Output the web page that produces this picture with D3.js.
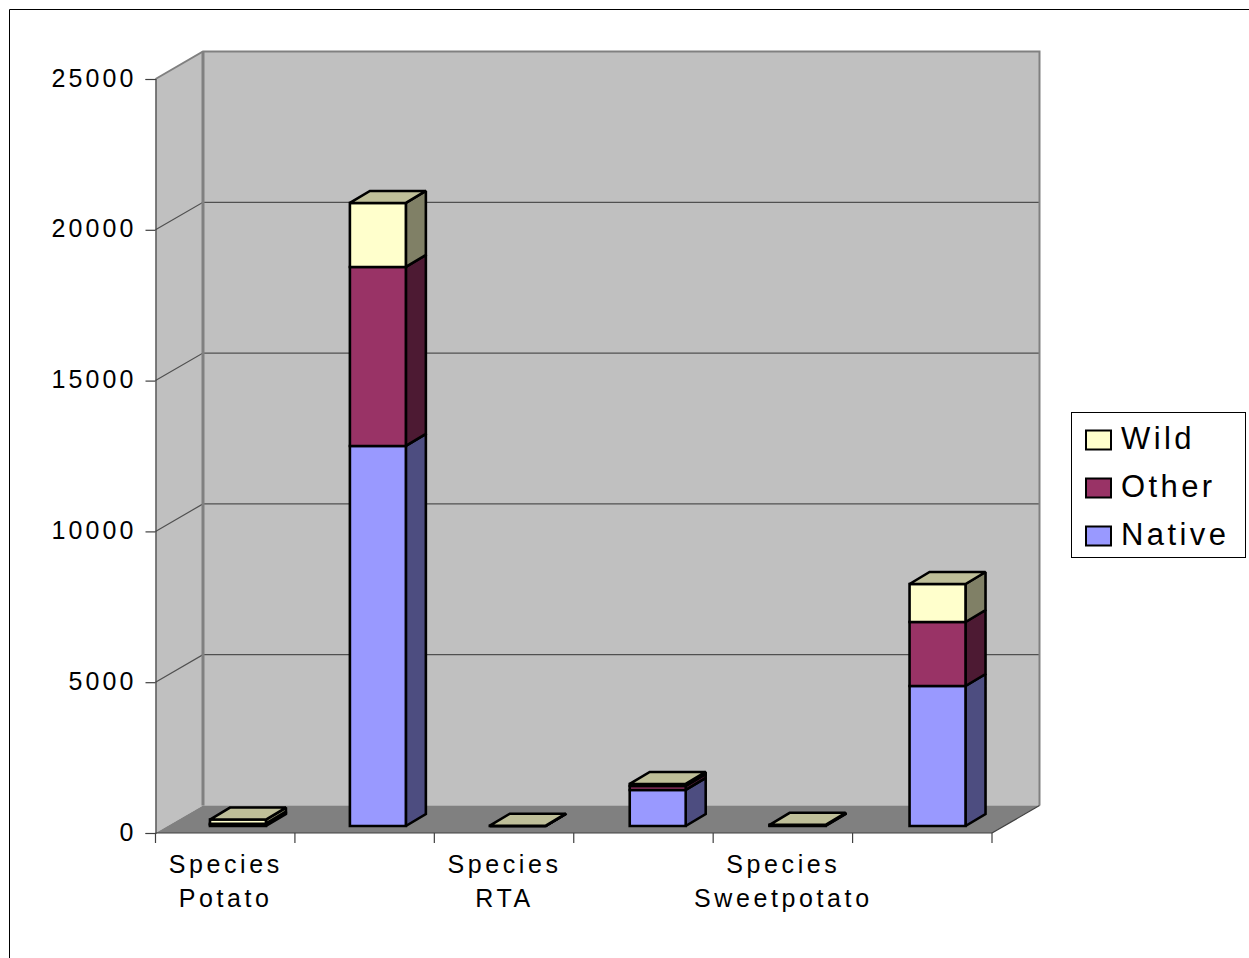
<!DOCTYPE html>
<html>
<head>
<meta charset="utf-8">
<script src="https://cdn.jsdelivr.net/npm/d3@7/dist/d3.min.js"></script>
<style>
html,body{margin:0;padding:0;background:#fff;overflow:hidden}
svg{display:block}
text{font-family:"Liberation Sans",Arial,sans-serif;fill:#000}
</style>
</head>
<body>
<svg id="chart" width="1249" height="958"></svg>
<script>
// Crop groups along the horizontal axis
const categories = ["Species Potato A", "Species Potato B", "Species RTA A", "Species RTA B", "Species Sweetpotato A", "Species Sweetpotato B"];
const axisLabels = [["Species", "Potato"], ["Species", "RTA"], ["Species", "Sweetpotato"]];
const seriesNames = ["Native", "Other", "Wild"];
const native = [40, 12600, 0, 1194, 10, 4642];
const other = [35, 5935, 0, 133, 20, 2122];
const wild = [140, 2122, 10, 66, 10, 1260];
const yTicks = [0, 5000, 10000, 15000, 20000, 25000];
const palette = ["#9999ff", "#993366", "#ffffcc"];

const rows = categories.map((c, i) => ({ category: c, Native: native[i], Other: other[i], Wild: wild[i] }));
const stacked = d3.stack().keys(seriesNames)(rows);

const svg = d3.select("#chart");

// Front plane of the 3D box
const y = d3.scaleLinear().domain([0, 25000]).range([833, 79]);
const xAxisScale = d3.scaleBand().domain(categories).range([155.5, 992]);
const wallDx = 47.5, wallDy = -27.5;

// Bars sit partway into the box
const barScale = d3.scaleBand().domain(categories).range([168, 1007.5]).paddingInner(0.6).paddingOuter(0.3);
const barDrop = -7;
const barDx = 20, barDy = -12;

const poly = pts => pts.map(p => p.join(",")).join(" ");
const x0 = xAxisScale.range()[0], x1 = xAxisScale.range()[1];
const wx0 = x0 + wallDx, wx1 = x1 + wallDx;
const y0 = y(0), yMax = y(25000);

// Left wall, back wall and floor
svg.append("polygon").attr("points", poly([[x0, y0], [wx0, y0 + wallDy], [wx0, yMax + wallDy], [x0, yMax]])).attr("fill", "#c0c0c0");
svg.append("polygon").attr("points", poly([[wx0, y0 + wallDy], [wx1, y0 + wallDy], [wx1, yMax + wallDy], [wx0, yMax + wallDy]])).attr("fill", "#c0c0c0");
svg.append("polygon").attr("points", poly([[x0, y0], [x1, y0], [wx1, y0 + wallDy], [wx0, y0 + wallDy]])).attr("fill", "#808080");

// Gridlines across both walls
const inner = yTicks.filter(t => t > 0 && t < 25000);
svg.append("g").selectAll("polyline").data(inner).join("polyline")
  .attr("points", d => poly([[x0, y(d)], [wx0, y(d) + wallDy], [wx1, y(d) + wallDy]]))
  .attr("fill", "none").attr("stroke", "#505050").attr("stroke-width", 1.2);

// Wall edges
svg.append("polyline").attr("points", poly([[x0, yMax], [wx0, yMax + wallDy], [wx1, yMax + wallDy], [wx1, y0 + wallDy]]))
  .attr("fill", "none").attr("stroke", "#808080").attr("stroke-width", 2);
svg.append("line").attr("x1", wx0).attr("x2", wx0).attr("y1", yMax + wallDy).attr("y2", y0 + wallDy)
  .attr("stroke", "#808080").attr("stroke-width", 3);
svg.append("line").attr("x1", x1).attr("x2", wx1).attr("y1", y0).attr("y2", y0 + wallDy)
  .attr("stroke", "#404040").attr("stroke-width", 1.2);

// Bars, lowest series first, each with front, side and top faces
const shade = (c, k) => { const r = d3.rgb(c); return d3.rgb(r.r * k, r.g * k, r.b * k).formatHex(); };
const faceStyle = s => s.attr("stroke", "#000").attr("stroke-width", 2.6).attr("stroke-linejoin", "miter").attr("stroke-miterlimit", 2);
const barGroup = svg.append("g");
stacked.forEach((layer, si) => {
  const col = palette[si];
  layer.forEach((d, i) => {
    const left = barScale(categories[i]), right = left + barScale.bandwidth();
    const b = y(d[0]) + barDrop, t = y(d[1]) + barDrop;
    barGroup.append("polygon").attr("points", poly([[right, b], [right + barDx, b + barDy], [right + barDx, t + barDy], [right, t]]))
      .attr("fill", shade(col, 0.5)).call(faceStyle);
    barGroup.append("polygon").attr("points", poly([[left, b], [right, b], [right, t], [left, t]]))
      .attr("fill", col).call(faceStyle);
    if (si === stacked.length - 1) {
      barGroup.append("polygon").attr("points", poly([[left, t], [right, t], [right + barDx, t + barDy], [left + barDx, t + barDy]]))
        .attr("fill", shade(col, 0.75)).call(faceStyle);
    }
  });
});

// Value axis on the front-left edge
const yAxis = d3.axisLeft(y).tickValues(yTicks).tickSize(10).tickPadding(9).tickFormat(d3.format("d"));
const yG = svg.append("g").attr("transform", "translate(155.5,0)").call(yAxis);
yG.selectAll("path,line").attr("stroke", "#404040").attr("stroke-width", 1.2);
yG.selectAll("text").attr("font-size", 25).attr("letter-spacing", 3.1).attr("dy", "0.28em")
  .attr("font-family", '"Liberation Sans",Arial,sans-serif').attr("fill", "#000");

// Category axis: ticks at band edges, labels under the first band of each pair
const edges = categories.map(c => xAxisScale(c)).concat([x1]);
const xG = svg.append("g");
xG.append("line").attr("x1", x0).attr("x2", x1).attr("y1", y0).attr("y2", y0).attr("stroke", "#404040").attr("stroke-width", 1.2);
xG.selectAll(".tick").data(edges).join("line").attr("class", "tick")
  .attr("x1", d => d).attr("x2", d => d).attr("y1", y0).attr("y2", y0 + 10)
  .attr("stroke", "#404040").attr("stroke-width", 1.2);
const labelG = svg.append("g");
axisLabels.forEach((lines, i) => {
  const cx = xAxisScale(categories[i * 2]) + xAxisScale.bandwidth() / 2;
  lines.forEach((ln, j) => {
    labelG.append("text").attr("x", cx + 0.5).attr("y", 873 + j * 34).attr("text-anchor", "middle")
      .attr("font-size", 25).attr("letter-spacing", 3.6).text(ln);
  });
});

// Legend box
const legendNames = seriesNames.slice().reverse();
const legendCols = palette.slice().reverse();
const legendY = d3.scalePoint().domain(legendNames).range([440, 536]);
svg.append("rect").attr("x", 1071.5).attr("y", 412.5).attr("width", 174).attr("height", 145)
  .attr("fill", "#fff").attr("stroke", "#000").attr("stroke-width", 1);
const leg = svg.append("g").selectAll("g").data(legendNames).join("g")
  .attr("transform", d => `translate(0,${legendY(d)})`);
leg.append("rect").attr("x", 1086).attr("y", -9.5).attr("width", 25).attr("height", 19)
  .attr("fill", (d, i) => legendCols[i]).attr("stroke", "#000").attr("stroke-width", 2);
leg.append("text").attr("x", 1121).attr("y", 9).attr("font-size", 31).attr("letter-spacing", 3.4).text(d => d);

// Outer chart frame, open at the window's right and bottom
svg.append("polyline").attr("points", poly([[9.5, 958], [9.5, 9.5], [1249, 9.5]]))
  .attr("fill", "none").attr("stroke", "#000").attr("stroke-width", 1);
</script>
</body>
</html>
